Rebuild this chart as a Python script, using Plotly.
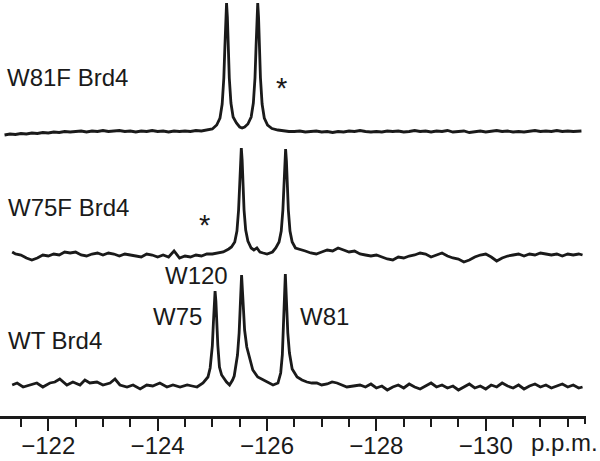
import plotly.graph_objects as go

# ---------------- data (chemical shift in p.p.m., intensity in arbitrary units) ----------------
# W81F Brd4 (top spectrum)
ppm_w81f = [
    -121.20, -121.30, -121.40, -121.50, -121.60, -121.70, -121.80, -121.90, -122.00, -122.10,
    -122.20, -122.30, -122.40, -122.50, -122.60, -122.70, -122.80, -122.90, -123.00, -123.10,
    -123.20, -123.30, -123.40, -123.50, -123.60, -123.70, -123.80, -123.90, -124.00, -124.10,
    -124.20, -124.30, -124.40, -124.50, -124.60, -124.70, -124.80, -124.90, -125.00, -125.08,
    -125.14, -125.18, -125.21, -125.23, -125.245, -125.26, -125.275, -125.29, -125.31, -125.34,
    -125.38, -125.44, -125.50, -125.545, -125.59, -125.65, -125.71, -125.75, -125.78, -125.80,
    -125.815, -125.83, -125.845, -125.86, -125.88, -125.91, -125.95, -126.01, -126.09, -126.20,
    -126.30, -126.40, -126.50, -126.60, -126.70, -126.80, -126.90, -127.00, -127.10, -127.20,
    -127.30, -127.40, -127.50, -127.60, -127.70, -127.80, -127.90, -128.00, -128.10, -128.20,
    -128.30, -128.40, -128.50, -128.60, -128.70, -128.80, -128.90, -129.00, -129.10, -129.20,
    -129.30, -129.40, -129.50, -129.60, -129.70, -129.80, -129.90, -130.00, -130.10, -130.20,
    -130.30, -130.40, -130.50, -130.60, -130.70, -130.80, -130.90, -131.00, -131.10, -131.20,
    -131.30, -131.40, -131.50, -131.60, -131.75,
]
int_w81f = [
    -3, -2, -2.5, -1.5, -2, -1, -1.5, -0.5, -1, 0,
    -0.5, 0.5, 0, 0.5, 1, 0, 1, 0.5, 1.5, 0.5,
    1, 1.5, 0.5, 1, 0, 1, 0.5, 1.5, 0.5, 1,
    0, 1, 0.5, 1, 0.5, 1.5, 1, 2, 3, 7,
    14, 28, 54, 86, 115, 129, 115, 86, 54, 29,
    15, 9, 5, 4, 5, 8, 15, 29, 54, 86,
    115, 129, 115, 86, 54, 28, 14, 7, 3.5, 2,
    1, 0.5, 0.5, 1, 0, 0.5, 1, 0, 0.5, -0.5,
    0.5, 0, 1, 0.5, 1.5, 0.5, 0, 0.5, 0, 1,
    0.5, 1, 0, 0.5, 1.5, 0.5, 1, 0, 1, 0.5,
    1.5, 0, 0.5, 1, -0.5, 0.5, 1, 0, 0.5, 1.5,
    0.5, 1, 0, 0.5, 0, 0.5, 1.5, 0.5, 1, 0.5,
    1.5, 0.5, 1, 0.5, 1,
]

# W75F Brd4 (middle spectrum)
ppm_w75f = [
    -121.34, -121.40, -121.50, -121.60, -121.70, -121.80, -121.90, -122.00, -122.10, -122.20,
    -122.30, -122.40, -122.50, -122.60, -122.70, -122.80, -122.90, -123.00, -123.10, -123.20,
    -123.30, -123.40, -123.50, -123.60, -123.70, -123.80, -123.90, -124.00, -124.10, -124.20,
    -124.30, -124.40, -124.50, -124.60, -124.70, -124.80, -124.90, -125.00, -125.10, -125.20,
    -125.30, -125.35, -125.41, -125.45, -125.48, -125.50, -125.515, -125.53, -125.545, -125.56,
    -125.58, -125.61, -125.65, -125.71, -125.76, -125.815, -125.87, -125.93, -126.00, -126.10,
    -126.16, -126.22, -126.26, -126.29, -126.31, -126.325, -126.34, -126.355, -126.37, -126.39,
    -126.42, -126.46, -126.52, -126.60, -126.70, -126.80, -126.90, -127.00, -127.10, -127.20,
    -127.30, -127.40, -127.50, -127.60, -127.70, -127.80, -127.90, -128.00, -128.10, -128.20,
    -128.30, -128.40, -128.50, -128.60, -128.70, -128.80, -128.90, -129.00, -129.10, -129.20,
    -129.30, -129.40, -129.50, -129.60, -129.70, -129.80, -129.90, -130.00, -130.10, -130.20,
    -130.30, -130.40, -130.50, -130.60, -130.70, -130.80, -130.90, -131.00, -131.10, -131.20,
    -131.30, -131.40, -131.50, -131.60, -131.70, -131.77,
]
int_w75f = [
    2, 0, -1, -4, -6, -4, -1, -2, 0, -1,
    2, 1, 2, -1, -2, 0, 1, -1, 1, 0,
    -2, 0, -1, -2, -3, 0, -1, -3, -1, -3,
    3, -4, -2, -3, -1, -2, 0, 0, 1, 2,
    5, 7, 12, 23, 44, 71, 94, 106, 94, 71,
    44, 24, 13, 6, 4, 6, 2, 1, 0, 2,
    6, 12, 23, 44, 70, 93, 105, 93, 70, 44,
    23, 12, 6, 5, 3, 1, 0, 2, 4, 3,
    6, 4, 2, 3, 0, -1, -2, -1, -3, -5,
    -6, -3, -4, -2, -1, 1, 0, -3, -1, 1,
    -2, -4, -5, -8, -6, -3, -1, 0, -3, -7,
    -4, -2, -1, 0, -2, 0, -1, 1, 0, -1,
    0, -2, 0, -1, 0, -1,
]

# WT Brd4 (bottom spectrum)
ppm_wt = [
    -121.34, -121.43, -121.54, -121.67, -121.79, -121.90, -122.03, -122.12, -122.21, -122.34,
    -122.45, -122.58, -122.67, -122.76, -122.89, -123.00, -123.13, -123.22, -123.31, -123.44,
    -123.55, -123.68, -123.80, -123.91, -124.04, -124.17, -124.28, -124.41, -124.54, -124.63,
    -124.72, -124.83, -124.92, -124.96, -125.00, -125.02, -125.035, -125.05, -125.065, -125.08,
    -125.10, -125.13, -125.17, -125.26, -125.315, -125.37, -125.40, -125.46, -125.49, -125.51,
    -125.52, -125.535, -125.55, -125.565, -125.59, -125.63, -125.74, -125.83, -125.93, -126.02,
    -126.11, -126.20, -126.25, -126.28, -126.30, -126.315, -126.325, -126.335, -126.345, -126.36,
    -126.38, -126.41, -126.46, -126.55, -126.64, -126.73, -126.82, -126.91, -127.00, -127.10,
    -127.19, -127.28, -127.37, -127.46, -127.58, -127.70, -127.80, -127.90, -128.00, -128.10,
    -128.20, -128.30, -128.40, -128.50, -128.60, -128.70, -128.80, -128.90, -129.00, -129.10,
    -129.20, -129.30, -129.40, -129.50, -129.60, -129.70, -129.80, -129.90, -130.00, -130.10,
    -130.20, -130.30, -130.40, -130.50, -130.60, -130.70, -130.80, -130.90, -131.00, -131.10,
    -131.20, -131.30, -131.40, -131.50, -131.60, -131.70, -131.77,
]
int_wt = [
    0, 2, -2, 0, 2, -2, 2, 3, 6, 0,
    3, 0, 5, 2, 3, 0, 2, 6, 0, -2,
    0, -4, 0, -1, 2, -2, 0, -2, 0, -1,
    -2, 2, 8, 17, 39, 63, 84, 94, 84, 63,
    40, 18, 10, 3, 0, 5, 9, 30, 52, 78,
    93, 110, 95, 78, 55, 38, 15, 8, 5, 2,
    0, 2, 12, 30, 55, 80, 98, 111, 98, 78,
    52, 32, 16, 8, 5, 3, 2, 2, 0, 1,
    3, 2, 0, -2, -1, 0, -2, 1, -3, -1,
    -5, -2, 0, -3, 1, -2, -4, -1, 2, -2,
    0, -3, -1, -5, -2, 1, -3, -1, -4, 0,
    -2, 2, -1, -3, 0, -4, -1, 1, -2, 0,
    -3, -1, 1, -2, 0, -3, -2,
]

spectra_names = ["W81F Brd4", "W75F Brd4", "WT Brd4"]
tick_values = [-122, -124, -126, -128, -130]
axis_unit = "p.p.m."
peak_labels = ["W75", "W120", "W81"]

# ---------------- layout constants ----------------
OFFSETS = [284, 162, 31]          # vertical stacking of the three spectra
X_RANGE = [-121.117, -131.815]    # reversed chemical-shift axis
INK = "#1a1a1a"
FONT = "Liberation Sans, Arial, Helvetica, sans-serif"
FS = 24

fig = go.Figure()
for (ppm, inten), off in zip([(ppm_w81f, int_w81f), (ppm_w75f, int_w75f), (ppm_wt, int_wt)], OFFSETS):
    fig.add_trace(go.Scatter(
        x=ppm, y=[v + off for v in inten], mode="lines",
        line=dict(color=INK, width=2.8), hoverinfo="skip", showlegend=False,
    ))

ann = []
# spectrum names
for name, (xp, yv) in zip(spectra_names, [(-121.21, 339), (-121.23, 209), (-121.23, 76)]):
    ann.append(dict(x=xp, y=yv, xref="x", yref="y", text=name, xanchor="left", yanchor="middle",
                    font=dict(family=FONT, size=FS, color=INK)))
# peak assignments (WT)
for lab, (xp, yv) in zip(peak_labels, [(-124.362, 100), (-124.718, 141), (-127.06, 100)]):
    ann.append(dict(x=xp, y=yv, xref="x", yref="y", text=lab, xanchor="center", yanchor="middle",
                    font=dict(family=FONT, size=FS, color=INK)))
# asterisks
for xp, yv in [(-126.267, 328), (-124.865, 191)]:
    ann.append(dict(x=xp, y=yv, xref="x", yref="y", text="*", xanchor="center", yanchor="middle",
                    font=dict(family=FONT, size=29, color=INK)))
# unit label (below the axis, in paper coordinates)
ann.append(dict(x=564.5 / 585, y=-26 / 416, xref="paper", yref="paper", text=axis_unit,
                xanchor="center", yanchor="middle", font=dict(family=FONT, size=FS, color=INK)))
for a in ann:
    a.update(showarrow=False)

fig.update_layout(
    width=600, height=461,
    margin=dict(l=0, r=15, t=0, b=45),
    paper_bgcolor="white", plot_bgcolor="white",
    annotations=ann,
    xaxis=dict(
        range=X_RANGE, showgrid=False, zeroline=False,
        showline=True, linecolor=INK, linewidth=2.5,
        ticks="outside", ticklen=12, tickwidth=2, tickcolor=INK,
        tickvals=tick_values,
        tickfont=dict(family=FONT, size=FS, color=INK),
        ticklabelstandoff=-6,
        minor=dict(ticks="outside", ticklen=8, tickwidth=2, tickcolor=INK, dtick=0.5, tick0=-122),
    ),
    yaxis=dict(range=[0, 416], visible=False, showgrid=False, zeroline=False),
    shapes=[dict(type="line", xref="paper", yref="paper", x0=1, x1=1, y0=0, y1=-8 / 416,
                 line=dict(color=INK, width=2))],
)

fig.write_html("out.html", config={"displayModeBar": False},
               post_script="document.body.style.margin='0px';")
